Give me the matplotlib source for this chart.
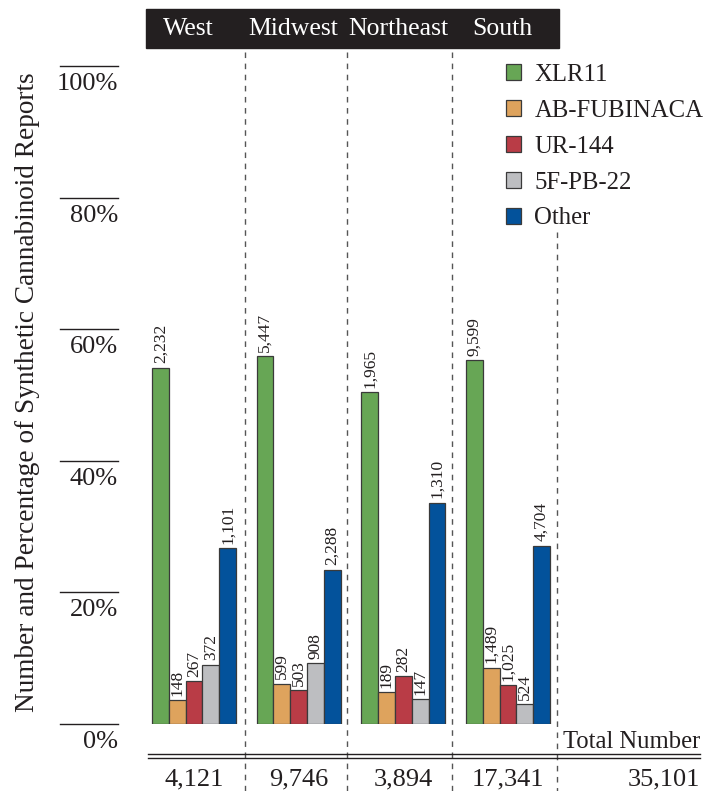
import matplotlib
matplotlib.use("Agg")
import matplotlib.pyplot as plt
import matplotlib.transforms as mtransforms
from matplotlib.patches import Rectangle, Patch

plt.rcParams['font.family'] = ['Liberation Serif', 'DejaVu Serif']

regions = ['West', 'Midwest', 'Northeast', 'South']
drugs = ['XLR11', 'AB-FUBINACA', 'UR-144', '5F-PB-22', 'Other']
colors = ['#67a655', '#dea35d', '#b93c46', '#bdbec1', '#03529b']

# report counts per region (rows: drugs, cols: regions)
xlr11 = [2232, 5447, 1965, 9599]
ab_fubinaca = [148, 599, 189, 1489]
ur144 = [267, 503, 282, 1025]
pb22 = [372, 908, 147, 524]
other = [1101, 2288, 1310, 4704]
totals = [4121, 9746, 3894, 17341]
grand_total = 35101
yticks = [0, 20, 40, 60, 80, 100]

counts = [xlr11, ab_fubinaca, ur144, pb22, other]

W, H = 709, 791
fig = plt.figure(figsize=(W / 100, H / 100), dpi=100)
ink = '#231f20'

# axes placed so that 0% sits at y=724px and 100% at y=66px
left_px, right_px = 146, 559
ax = fig.add_axes([left_px / W, (H - 724) / H, (right_px - left_px) / W, (724 - 66) / H])
step = 104.67
ax.set_xlim(-(194 - left_px) / step, 3 + (right_px - 508) / step)
ax.set_ylim(0, 100)
ax.axis('off')

bw = 16.8 / step
for i, (name, vals) in enumerate(zip(drugs, counts)):
    xs = [g + (i - 2) * bw for g in range(len(regions))]
    pct = [v / t * 100 for v, t in zip(vals, totals)]
    ax.bar(xs, pct, width=bw, color=colors[i], edgecolor='#3a3a3a', linewidth=0.9, label=name)
    for x, p, v in zip(xs, pct, vals):
        ax.annotate(f'{v:,}', (x, p), xytext=(0, 3), textcoords='offset points',
                    rotation=90, ha='center', va='bottom', fontsize=12.5, color=ink)

fx = mtransforms.blended_transform_factory(ax.transData, fig.transFigure)
fy = mtransforms.blended_transform_factory(fig.transFigure, ax.transData)

def py(p):
    return (H - p) / H

def px(p):
    return p / W

# header bar
ax.add_patch(Rectangle((px(146), py(48)), px(559) - px(146), py(9) - py(48),
                       transform=fig.transFigure, color=ink, zorder=0, clip_on=False))
for g, r in enumerate(regions):
    ax.text(g - 0.05, py(29), r, transform=fx, ha='center', va='center',
            color='white', fontsize=18.5, clip_on=False, zorder=5)

# dashed separators
for s in [0.49, 1.465, 2.465]:
    ax.plot([s, s], [py(52), 0], transform=fx, ls=(0, (4, 4)), color='#555555', lw=1, clip_on=False)
ax.plot([3.47, 3.47], [py(232), 0], transform=fx, ls=(0, (4, 4)), color='#555555', lw=1, clip_on=False)

# y ticks drawn as short rules over labels
for t in yticks:
    ax.plot([px(60), px(118)], [t, t], transform=fy, color=ink, lw=1, clip_on=False)
    ax.annotate(f'{t}%', (px(118), t), xycoords=fy, xytext=(0, -5), textcoords='offset points',
                ha='right', va='top', fontsize=19, color=ink)

fig.text(px(28), py(392), 'Number and Percentage of Synthetic Cannabinoid Reports',
         rotation=90, ha='center', va='center', fontsize=19.6, color=ink)

# totals row
for yy in [754, 758]:
    fig.add_artist(plt.Line2D([px(148), px(700)], [py(yy), py(yy)], color=ink, lw=1))
for g, t in enumerate(totals):
    ax.text(g, py(779), f'{t:,}', transform=fx, ha='center', va='center',
            fontsize=19, color=ink, clip_on=False)
fig.text(px(700), py(779), f'{grand_total:,}', ha='right', va='center', fontsize=19, color=ink)
fig.text(px(700), py(742), 'Total Number', ha='right', va='center', fontsize=17.7, color=ink)

handles = [Patch(facecolor=c, edgecolor='#3a3a3a', linewidth=0.9) for c in colors]
fig.legend(handles, drugs, loc='upper left', bbox_to_anchor=(px(506), py(64)), frameon=False,
           fontsize=17.8, handlelength=0.6, handleheight=0.6, handletextpad=0.55,
           labelspacing=0.56, borderaxespad=0, borderpad=0, labelcolor=ink)

fig.savefig('out.png', dpi=100)
